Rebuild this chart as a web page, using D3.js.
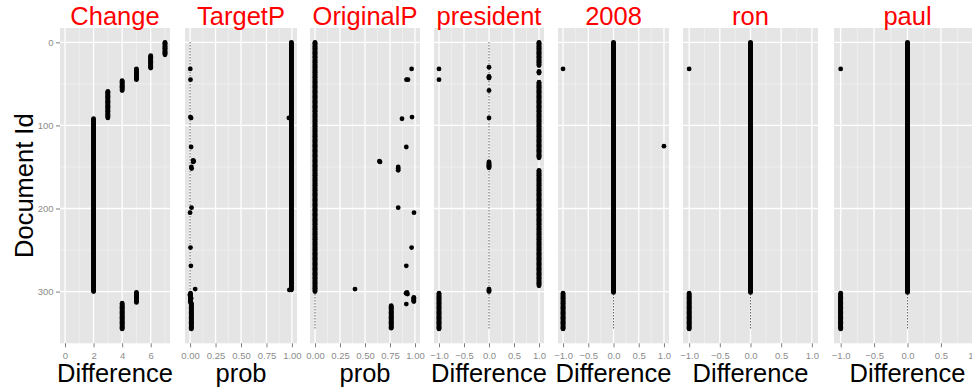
<!DOCTYPE html>
<html>
<head>
<meta charset="utf-8">
<script src="https://cdn.jsdelivr.net/npm/d3@7"></script>
<style>
  body { margin: 0; background: #fff; }
  svg { display: block; font-family: "Liberation Sans", Arial, sans-serif; }
</style>
</head>
<body>
<figure id="chart" style="margin:0"></figure>
<script>
// facets and axis titles
const panels = ["Change", "TargetP", "OriginalP", "president", "2008", "ron", "paul"];
const axisTitles = ["Difference", "prob", "prob", "Difference", "Difference", "Difference", "Difference"];
const xLimits = [[0, 7], [0, 1], [0, 1], [-1, 1], [-1, 1], [-1, 1], [-1, 1]];
const xTicks = [
  [0, 2, 4, 6],
  [0, 0.25, 0.5, 0.75, 1],
  [0, 0.25, 0.5, 0.75, 1],
  [-1, -0.5, 0, 0.5, 1],
  [-1, -0.5, 0, 0.5, 1],
  [-1, -0.5, 0, 0.5, 1],
  [-1, -0.5, 0, 0.5, 1]
];
const yTicks = [0, 100, 200, 300];
const maxDocId = 345;

// runs are [firstDocId, lastDocId, value], singles are [docId, value]
const changeRuns = [[0, 15, 7], [16, 31, 6], [32, 45, 5], [46, 58, 4], [59, 91, 3], [92, 300, 2], [301, 313, 5], [314, 345, 4]];
const changeSingles = [];

const targetRuns = [[0, 298, 0.995], [302, 313, 0.004], [314, 345, 0.012]];
const targetSingles = [[91, 0.97], [298, 0.975], [32, 0.002], [45, 0.004], [90, 0.003], [91, 0.01],
  [126, 0.01], [142, 0.03], [143, 0.035], [144, 0.03], [150, 0.012], [152, 0.015], [199, 0.014],
  [205, 0.0], [247, 0.004], [269, 0.008], [297, 0.05], [304, -0.002], [308, 0.01]];

const originalRuns = [[0, 300, 0.0], [307, 312, 0.988], [317, 344, 0.762]];
const originalSingles = [[32, 0.966], [45, 0.915], [45, 0.93], [90, 0.97], [92, 0.87], [126, 0.913],
  [143, 0.644], [144, 0.65], [150, 0.832], [152, 0.832], [154, 0.832], [199, 0.832], [205, 0.99],
  [247, 0.966], [269, 0.913], [297, 0.40], [301, 0.92], [302, 0.91], [303, 0.925], [315, 0.913]];

const presidentRuns = [[0, 28, 1], [35, 37, 1], [48, 139, 1], [154, 293, 1], [144, 151, 0], [297, 300, 0], [302, 345, -1]];
const presidentSingles = [[30, 0], [41, 0], [42, 0], [43, 0], [58, 0], [91, 0], [32, -1], [45, -1]];

const y2008Runs = [[0, 301, 0], [302, 345, -1]];
const y2008Singles = [[32, -1], [125, 1]];

const ronRuns = [[0, 301, 0], [302, 345, -1]];
const ronSingles = [[32, -1]];

const paulRuns = [[0, 301, 0], [302, 345, -1]];
const paulSingles = [[32, -1]];

const panelRuns = [changeRuns, targetRuns, originalRuns, presidentRuns, y2008Runs, ronRuns, paulRuns];
const panelSingles = [changeSingles, targetSingles, originalSingles, presidentSingles, y2008Singles, ronSingles, paulSingles];
const tickFormats = [d3.format("d"), d3.format(".2f"), d3.format(".2f"),
  d3.format(".1f"), d3.format(".1f"), d3.format(".1f"), d3.format(".1f")];

// layout
const width = 972, height = 391;
const panelTop = 28, panelBottom = 343.3;
const panelLeft = [60, 185, 310, 434, 558, 683, 834];
const panelRight = [170, 297, 420, 544, 669, 818, 981];

const expand = (lim) => {
  const pad = (lim[1] - lim[0]) * 0.05;
  return [lim[0] - pad, lim[1] + pad];
};

const y = d3.scaleLinear()
  .domain(expand([0, maxDocId]))
  .range([panelTop, panelBottom]);

const yMinor = d3.pairs(yTicks).map(p => (p[0] + p[1]) / 2);

const svg = d3.select("figure#chart")
  .append("svg")
  .attr("width", width)
  .attr("height", height);

panels.forEach((name, i) => {
  const x = d3.scaleLinear()
    .domain(expand(xLimits[i]))
    .range([panelLeft[i], panelRight[i]]);

  const ticks = xTicks[i];
  const step = ticks[1] - ticks[0];
  const xMinor = [ticks[0] - step / 2, ...d3.pairs(ticks).map(p => (p[0] + p[1]) / 2), ticks[ticks.length - 1] + step / 2]
    .filter(v => v >= x.domain()[0] && v <= x.domain()[1]);

  const data = panelRuns[i].flatMap(r => d3.range(r[0], r[1] + 1).map(id => ({ id: id, v: r[2] })))
    .concat(panelSingles[i].map(s => ({ id: s[0], v: s[1] })));

  const g = svg.append("g");

  g.append("rect")
    .attr("x", panelLeft[i])
    .attr("y", panelTop)
    .attr("width", panelRight[i] - panelLeft[i])
    .attr("height", panelBottom - panelTop)
    .attr("fill", "#E5E5E5");

  // minor grid
  g.selectAll("line.ymin").data(yMinor).join("line")
    .attr("x1", panelLeft[i]).attr("x2", panelRight[i])
    .attr("y1", d => y(d)).attr("y2", d => y(d))
    .attr("stroke", "#F2F2F2").attr("stroke-width", 0.7);
  g.selectAll("line.xmin").data(xMinor).join("line")
    .attr("y1", panelTop).attr("y2", panelBottom)
    .attr("x1", d => x(d)).attr("x2", d => x(d))
    .attr("stroke", "#F2F2F2").attr("stroke-width", 0.7);

  // major grid
  g.selectAll("line.ymaj").data(yTicks).join("line")
    .attr("x1", panelLeft[i]).attr("x2", panelRight[i])
    .attr("y1", d => y(d)).attr("y2", d => y(d))
    .attr("stroke", "#fff").attr("stroke-width", 1.3);
  g.selectAll("line.xmaj").data(ticks).join("line")
    .attr("y1", panelTop).attr("y2", panelBottom)
    .attr("x1", d => x(d)).attr("x2", d => x(d))
    .attr("stroke", "#fff").attr("stroke-width", 1.3);

  // zero reference line
  if (i > 0) {
    g.append("line")
      .attr("x1", x(0)).attr("x2", x(0))
      .attr("y1", y(0)).attr("y2", y(maxDocId))
      .attr("stroke", "#000")
      .attr("stroke-width", 0.9)
      .attr("stroke-dasharray", "1,2");
  }

  g.selectAll("circle").data(data).join("circle")
    .attr("cx", d => x(d.v))
    .attr("cy", d => y(d.id))
    .attr("r", 2.4)
    .attr("fill", "#000");

  // x axis
  const xAxis = d3.axisBottom(x)
    .tickValues(ticks)
    .tickSize(4)
    .tickPadding(4.5)
    .tickFormat(tickFormats[i]);

  g.append("g")
    .attr("transform", `translate(0,${panelBottom})`)
    .call(xAxis)
    .call(a => a.select(".domain").remove())
    .call(a => a.selectAll("line").attr("stroke", "#7F7F7F"))
    .call(a => a.selectAll("text").attr("fill", "#8C8C8C").attr("font-size", 9.5).attr("font-family", "Liberation Sans, Arial, sans-serif"));

  g.append("text")
    .attr("x", (panelLeft[i] + panelRight[i]) / 2)
    .attr("y", 25)
    .attr("text-anchor", "middle")
    .attr("font-size", 25.5)
    .attr("fill", "#FF0000")
    .text(name);

  g.append("text")
    .attr("x", (panelLeft[i] + panelRight[i]) / 2)
    .attr("y", 382)
    .attr("text-anchor", "middle")
    .attr("font-size", 25.5)
    .attr("fill", "#000")
    .text(axisTitles[i]);
});

// y axis on the first panel
svg.append("g")
  .attr("transform", `translate(${panelLeft[0]},0)`)
  .call(d3.axisLeft(y).tickValues(yTicks).tickSize(4).tickPadding(2.5))
  .call(a => a.select(".domain").remove())
  .call(a => a.selectAll("line").attr("stroke", "#7F7F7F"))
  .call(a => a.selectAll("text").attr("fill", "#8C8C8C").attr("font-size", 9.5).attr("font-family", "Liberation Sans, Arial, sans-serif"));

svg.append("text")
  .attr("transform", `translate(33,${(panelTop + panelBottom) / 2}) rotate(-90)`)
  .attr("text-anchor", "middle")
  .attr("font-size", 25.5)
  .attr("fill", "#000")
  .text("Document Id");
</script>
</body>
</html>
